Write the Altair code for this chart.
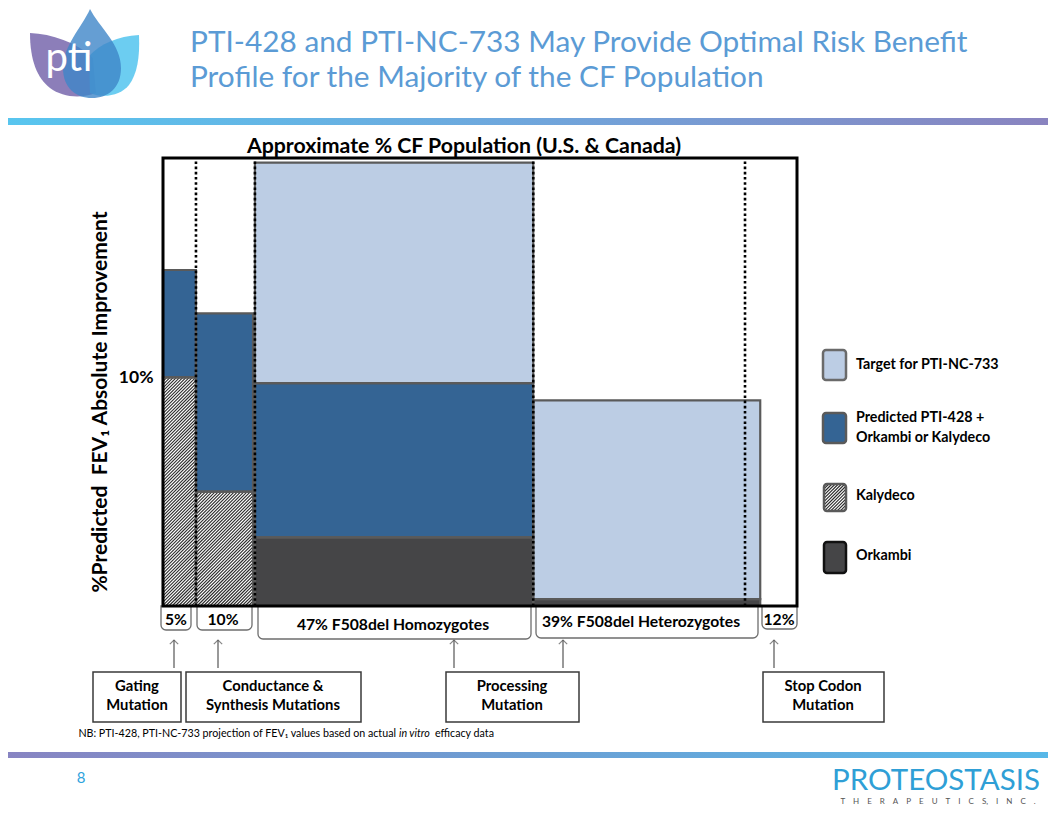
import altair as alt
import pandas as pd

# ---------------- data ----------------
groups = ["Gating", "Conductance & Synthesis", "F508del Homozygotes",
          "F508del Heterozygotes", "Stop Codon"]
x_start = [0.0, 5.2, 14.5, 58.4, 91.8]
x_end = [5.2, 14.2, 58.4, 94.2, 100.0]
kalydeco = [10.0, 5.0, 0.0, 0.0, 0.0]
orkambi = [0.0, 0.0, 3.0, 0.3, 0.0]
pti428_top = [14.7, 12.8, 9.75, 0.0, 0.0]
nc733_top = [0.0, 0.0, 19.4, 9.0, 0.0]
boundaries = [5.2, 14.5, 58.4, 91.8]
y_ticks = [10]
bracket_labels = ["5%", "10%", "47% F508del Homozygotes",
                  "39% F508del Heterozygotes", "12%"]
callout_labels = ["Gating\nMutation", "Conductance &\nSynthesis Mutations",
                  "Processing\nMutation", "Stop Codon\nMutation"]
legend_labels = ["Target for PTI-NC-733", "Predicted PTI-428 +\nOrkambi or Kalydeco",
                 "Kalydeco", "Orkambi"]
title_lines = ["PTI-428 and PTI-NC-733 May Provide Optimal Risk Benefit",
               "Profile for the Majority of the CF Population"]

# ---------------- layout ----------------
W, H = 634, 448
XMAX, YMAX = 100.0, 19.6
OX, OY = 163, 158  # page position of plot origin
FONT = "Lato"


def PX(x):
    return x - OX


def PY(y):
    return y - OY


xs = alt.Scale(domain=[0, XMAX], nice=False, zero=False)
ys = alt.Scale(domain=[0, YMAX], nice=False, zero=False)
yax = alt.Axis(values=y_ticks, labelExpr="datum.value + '%'", domain=False, ticks=False,
               grid=False, labelFontSize=17.5, labelFontWeight="bold", labelFont=FONT,
               labelColor="black", labelPadding=10, title=None)

# bar rectangles
rows = []
for i, g in enumerate(groups):
    base = 0.0
    if kalydeco[i] > 0:
        rows.append(dict(g=g, x0=x_start[i], x1=x_end[i], y0=0.0, y1=kalydeco[i], k="Kalydeco"))
        base = kalydeco[i]
    if orkambi[i] > 0:
        rows.append(dict(g=g, x0=x_start[i], x1=x_end[i], y0=0.0, y1=orkambi[i], k="Orkambi"))
        base = orkambi[i]
    if pti428_top[i] > 0:
        rows.append(dict(g=g, x0=x_start[i], x1=x_end[i], y0=base, y1=pti428_top[i], k="PTI-428"))
        base = pti428_top[i]
    if nc733_top[i] > 0:
        rows.append(dict(g=g, x0=x_start[i], x1=x_end[i], y0=base, y1=nc733_top[i], k="NC-733"))
bars = pd.DataFrame(rows)

cscale = alt.Scale(domain=["NC-733", "PTI-428", "Kalydeco", "Orkambi"],
                   range=["#bccde4", "#346494", "#ffffff", "#454547"])

sx, sy = W / XMAX, H / YMAX
STEP = 3.2


def hatch_data(x0, x1, y0, y1):
    X0, X1, Y0, Y1 = x0 * sx, x1 * sx, y0 * sy, y1 * sy
    out = []
    c = Y0 - X1 + STEP / 2
    while c < Y1 - X0:
        a = max(X0, Y0 - c)
        b = min(X1, Y1 - c)
        if b > a:
            out.append(dict(hx=a / sx, hy=(a + c) / sy, hx2=b / sx, hy2=(b + c) / sy))
        c += STEP
    return out


hrows = []
for r in rows:
    if r["k"] == "Kalydeco":
        hrows += hatch_data(r["x0"], r["x1"], r["y0"], r["y1"])
hatch = pd.DataFrame(hrows)


def hatch_px(X0, X1, Y0, Y1):
    # screen coords (y down), lines rising to the right
    out = []
    c = X0 + Y0 + STEP / 2
    while c < X1 + Y1:
        a = max(X0, c - Y1)
        b = min(X1, c - Y0)
        if b > a:
            out.append(dict(px=PX(a), py=PY(c - a), px2=PX(b), py2=PY(c - b)))
        c += STEP
    return out


one = pd.DataFrame({"a": [0]})

bar_fill = alt.Chart(bars).mark_rect(strokeWidth=0).encode(
    x=alt.X("x0:Q", scale=xs, axis=None), x2="x1:Q",
    y=alt.Y("y0:Q", scale=ys, axis=yax), y2="y1:Q",
    color=alt.Color("k:N", scale=cscale, legend=None))
bar_hatch = alt.Chart(hatch).mark_rule(color="#2a2a2a", strokeWidth=1.1).encode(
    x=alt.X("hx:Q", scale=xs, axis=None), x2="hx2:Q",
    y=alt.Y("hy:Q", scale=ys, axis=yax), y2="hy2:Q")
bar_line = alt.Chart(bars).mark_rect(fillOpacity=0, stroke="#5a5a5a", strokeWidth=2.2).encode(
    x=alt.X("x0:Q", scale=xs, axis=None), x2="x1:Q",
    y=alt.Y("y0:Q", scale=ys, axis=yax), y2="y1:Q")

dots = alt.Chart(pd.DataFrame({"b": boundaries, "lo": 0.0, "hi": YMAX})).mark_rule(
    color="black", strokeWidth=2.6, strokeDash=[2.6, 2.6]).encode(
    x=alt.X("b:Q", scale=xs, axis=None),
    y=alt.Y("lo:Q", scale=ys, axis=yax), y2="hi:Q")
frame = alt.Chart(pd.DataFrame({"x0": [0.0], "x1": [XMAX], "y0": [0.0], "y1": [YMAX]})).mark_rect(
    fillOpacity=0, stroke="black", strokeWidth=3).encode(
    x=alt.X("x0:Q", scale=xs, axis=None), x2="x1:Q",
    y=alt.Y("y0:Q", scale=ys, axis=yax), y2="y1:Q")


def pxenc(extra=None, two=False):
    enc = dict(x=alt.X("px:Q", scale=None, axis=None), y=alt.Y("py:Q", scale=None, axis=None))
    if two:
        enc["x2"] = "px2:Q"
        enc["y2"] = "py2:Q"
    if extra:
        enc.update(extra)
    return enc


def text_layer(df, **kw):
    base = dict(font=FONT, color="black", lineBreak="\n")
    base.update(kw)
    return alt.Chart(df).mark_text(**base).encode(**pxenc({"text": "t:N"}))


layers = []

# ---- logo petals
LCX, LCY, LS = 85, 56, 50.0


def lpath(pts):
    out = []
    for cmd, coords in pts:
        s = cmd
        if coords:
            s += " ".join("%.3f,%.3f" % ((coords[j] - LCX) / LS, (coords[j + 1] - LCY) / LS)
                          for j in range(0, len(coords), 2))
        out.append(s)
    return " ".join(out)


purple = lpath([("M", [30, 33]), ("C", [52, 34, 76, 42, 93, 58]), ("L", [96, 93]),
                ("C", [80, 99, 62, 97, 50, 88]), ("C", [37, 78, 30, 60, 30, 33]), ("Z", [])])
cyan = lpath([("M", [139, 35]), ("C", [118, 36, 100, 44, 89, 56]), ("L", [90, 93]),
              ("C", [104, 99, 121, 95, 129, 85]), ("C", [137, 74, 140, 58, 139, 35]), ("Z", [])])
blue = lpath([("M", [90, 9]), ("C", [99, 27, 121, 44, 121, 68]), ("C", [121, 88, 108, 98, 92, 98]),
              ("C", [76, 98, 63, 88, 63, 68]), ("C", [63, 46, 82, 27, 90, 9]), ("Z", [])])
logo_pt = pd.DataFrame({"px": [PX(LCX)], "py": [PY(LCY)]})
for shp, col, op in [(purple, "#8677b5", 0.95), (cyan, "#52c4ee", 0.85), (blue, "#3f86c8", 0.8)]:
    layers.append(alt.Chart(logo_pt).mark_point(shape=shp, size=(2 * LS) ** 2, filled=True,
                                                 color=col, opacity=op, strokeWidth=0)
                  .encode(**pxenc()))
layers.append(text_layer(pd.DataFrame({"px": [PX(69)], "py": [PY(71)], "t": ["pti"]}),
                         fontSize=40, color="white", align="center", baseline="alphabetic"))

# ---- title
layers.append(text_layer(pd.DataFrame({"px": [PX(190), PX(190)], "py": [PY(52), PY(87)],
                                       "t": title_lines}),
                         fontSize=29.8, color="#5b9bd5", align="left", baseline="alphabetic"))

# ---- gradient rules
top_grad = alt.Gradient(gradient="linear", x1=0, x2=1, y1=0, y2=0,
                        stops=[alt.GradientStop(color="#58c6ef", offset=0),
                               alt.GradientStop(color="#6fa6dc", offset=0.5),
                               alt.GradientStop(color="#8a83bf", offset=1)])
bot_grad = alt.Gradient(gradient="linear", x1=0, x2=1, y1=0, y2=0,
                        stops=[alt.GradientStop(color="#8884c2", offset=0),
                               alt.GradientStop(color="#6b9fd4", offset=0.5),
                               alt.GradientStop(color="#57b8e8", offset=1)])
layers.append(alt.Chart(one).mark_rect(fill=top_grad).encode(
    x=alt.value(PX(0)), x2=alt.value(PX(1056)), y=alt.value(PY(118)), y2=alt.value(PY(125))))
layers.append(alt.Chart(one).mark_rect(fill=bot_grad).encode(
    x=alt.value(PX(0)), x2=alt.value(PX(1056)), y=alt.value(PY(752)), y2=alt.value(PY(758))))

# ---- chart heading
layers.append(text_layer(pd.DataFrame({"px": [PX(464)], "py": [PY(153)],
                                       "t": ["Approximate % CF Population (U.S. & Canada)"]}),
                         fontSize=21.3, fontWeight="bold", align="center", baseline="alphabetic"))

# ---- y title (rotated)
layers.append(text_layer(pd.DataFrame({"px": [PX(101)], "py": [PY(402)],
                                       "t": ["%Predicted\u00a0 FEV\u2081 Absolute Improvement"]}),
                         fontSize=21, fontWeight="bold", align="center", baseline="middle",
                         angle=270))

# ---- brackets under the chart
br = pd.DataFrame({
    "px": [PX(161), PX(197), PX(258), PX(536), PX(762)],
    "px2": [PX(191), PX(252), PX(531), PX(758), PX(797)],
    "py": [PY(606)] * 5,
    "py2": [PY(630), PY(630), PY(639), PY(638), PY(629)],
})
layers.append(alt.Chart(br).mark_rect(fillOpacity=0, stroke="#6e6e6e", strokeWidth=1.3,
                                      cornerRadiusBottomLeft=5, cornerRadiusBottomRight=5)
              .encode(**pxenc(two=True)))
layers.append(text_layer(pd.DataFrame({
    "px": [PX(176), PX(223), PX(393), PX(641), PX(779)],
    "py": [PY(620), PY(620), PY(625), PY(622), PY(620)],
    "t": bracket_labels}), fontSize=15.7, fontWeight="bold", align="center", baseline="middle"))

# ---- bars and frame
layers += [bar_fill, bar_hatch, bar_line, dots, frame]

# ---- arrows
arr_x = [174, 218, 454, 563, 774]
arr = pd.DataFrame({"px": [PX(v) for v in arr_x], "py": [PY(640)] * 5,
                    "px2": [PX(v) for v in arr_x], "py2": [PY(668)] * 5})
layers.append(alt.Chart(arr).mark_rule(color="#555555", strokeWidth=1.2).encode(**pxenc(two=True)))
layers.append(alt.Chart(arr).mark_point(shape="M-1,1 L0,0 L1,1", size=70, filled=False,
                                        color="#555555", strokeWidth=1.2).encode(**pxenc()))

# ---- callout boxes
cb = pd.DataFrame({"px": [PX(93), PX(186), PX(446), PX(763)],
                   "px2": [PX(181), PX(361), PX(579), PX(884)],
                   "py": [PY(672)] * 4,
                   "py2": [PY(722)] * 4})
layers.append(alt.Chart(cb).mark_rect(fill="white", stroke="#3a3a3a", strokeWidth=1.5)
              .encode(**pxenc(two=True)))
layers.append(text_layer(pd.DataFrame({"px": [PX(137), PX(273), PX(512), PX(823)],
                                       "py": [PY(687)] * 4, "t": callout_labels}),
                         fontSize=14.8, fontWeight="bold", align="center", baseline="middle",
                         lineHeight=19))

# ---- legend
lg = pd.DataFrame({"px": [PX(823), PX(823), PX(824), PX(824)],
                   "px2": [PX(846), PX(846), PX(846), PX(846)],
                   "py": [PY(350), PY(413), PY(484), PY(542)],
                   "py2": [PY(380), PY(443), PY(511), PY(573)],
                   "k": ["NC-733", "PTI-428", "Kalydeco", "Orkambi"]})
layers.append(alt.Chart(lg).mark_rect(cornerRadius=3, strokeWidth=0).encode(
    **pxenc({"color": alt.Color("k:N", scale=cscale, legend=None)}, two=True)))
layers.append(alt.Chart(pd.DataFrame(hatch_px(824, 846, 484, 511))).mark_rule(
    color="#2a2a2a", strokeWidth=1.1).encode(**pxenc(two=True)))
lg["sc"] = ["#6a6a6a", "#5a5a5a", "#5a5a5a", "#111111"]
layers.append(alt.Chart(lg).mark_rect(cornerRadius=3, fillOpacity=0, strokeWidth=2.5).encode(
    **pxenc({"stroke": alt.Stroke("sc:N", scale=None)}, two=True)))
layers.append(text_layer(pd.DataFrame({"px": [PX(856)] * 4,
                                       "py": [PY(365), PY(418), PY(496), PY(556)],
                                       "t": legend_labels}),
                         fontSize=14.3, fontWeight="bold", align="left", baseline="middle",
                         lineHeight=20))

# ---- footnote (three pieces: regular, italic, regular)
FN = 10.7
layers.append(text_layer(pd.DataFrame({
    "px": [PX(396)], "py": [PY(737)],
    "t": ["NB: PTI-428, PTI-NC-733 projection of FEV\u2081 values based on actual"]}),
    fontSize=FN, align="right", baseline="alphabetic"))
layers.append(text_layer(pd.DataFrame({"px": [PX(399)], "py": [PY(737)], "t": ["in vitro"]}),
                         fontSize=FN, fontStyle="italic", align="left", baseline="alphabetic"))
layers.append(text_layer(pd.DataFrame({"px": [PX(435)], "py": [PY(737)], "t": ["efficacy data"]}),
                         fontSize=FN, align="left", baseline="alphabetic"))

# ---- page number and company logo
layers.append(text_layer(pd.DataFrame({"px": [PX(81)], "py": [PY(778)], "t": ["8"]}),
                         fontSize=15, color="#2ea3dd", align="center", baseline="middle"))
layers.append(text_layer(pd.DataFrame({"px": [PX(936)], "py": [PY(790)], "t": ["PROTEOSTASIS"]}),
                         fontSize=29.5, color="#2f9fd6", align="center", baseline="alphabetic"))
sp = "\u2002\u2002"
layers.append(text_layer(pd.DataFrame({"px": [PX(938)], "py": [PY(802)],
                                       "t": [sp.join("THERAPEUTICS") + "," + sp + sp.join("INC.")]}),
                         fontSize=8, color="#555555", align="center", baseline="middle"))

chart = alt.layer(*layers).properties(
    width=W, height=H, autosize="none",
    padding={"left": OX - 8, "top": OY - 8, "right": 1048 - OX - W, "bottom": 808 - OY - H},
    background="white",
).configure_view(stroke=None)

chart.save("out.html", embed_options={"renderer": "svg", "actions": False})
